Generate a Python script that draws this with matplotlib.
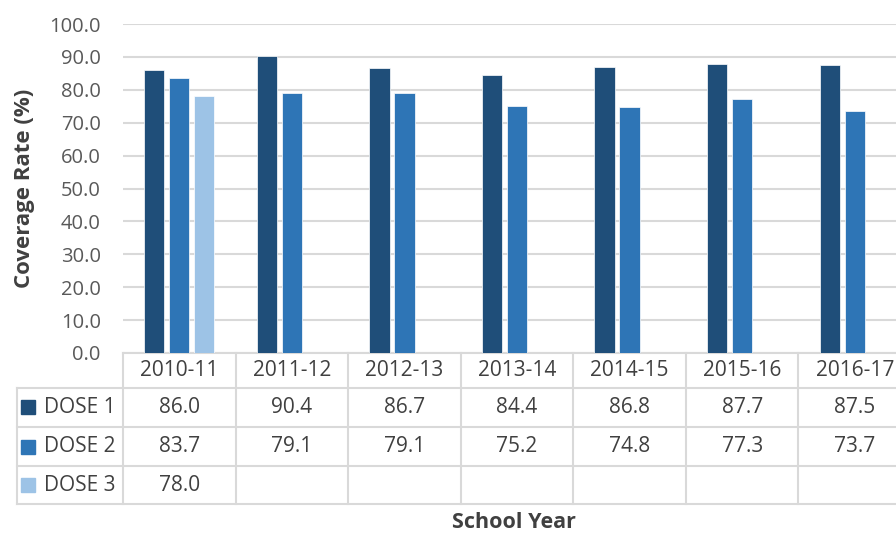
import numpy as np
import matplotlib.pyplot as plt

plt.rcParams['font.family'] = ['Open Sans', 'DejaVu Sans']

years = ['2010-11', '2011-12', '2012-13', '2013-14', '2014-15', '2015-16', '2016-17']
dose1 = [86.0, 90.4, 86.7, 84.4, 86.8, 87.7, 87.5]
dose2 = [83.7, 79.1, 79.1, 75.2, 74.8, 77.3, 73.7]
dose3 = [78.0, None, None, None, None, None, None]
series_names = ['DOSE 1', 'DOSE 2', 'DOSE 3']
colors = ['#1F4E79', '#2E75B6', '#9DC3E6']

grid_c = '#D9D9D9'
text_c = '#404040'

fig = plt.figure(figsize=(8.96, 5.34), dpi=100)
ax = fig.add_axes([123 / 896, 1 - 353 / 534, (911 - 123) / 896, 329 / 534])

x = np.arange(len(years))
width = 0.18
offsets = [-0.222, 0.0, 0.222]
all_series = [dose1, dose2, dose3]
for vals, off, col in zip(all_series, offsets, colors):
    v = np.array([np.nan if a is None else a for a in vals], dtype=float)
    ax.bar(x + off, v, width, color=col, edgecolor='white', linewidth=0.5, zorder=3)

ax.set_xlim(-0.5, len(years) - 0.5)
ax.set_ylim(0, 100)
ax.set_yticks(np.arange(0, 101, 10))
ax.set_yticklabels([f'{t:.1f}' for t in np.arange(0, 101, 10)])
ax.set_xticks([])
ax.tick_params(axis='y', length=0, pad=16, labelsize=14.5, labelcolor='#595959')
ax.grid(axis='y', color=grid_c, linewidth=1.5, zorder=0)
for s in ax.spines.values():
    s.set_visible(False)

ax.set_ylabel('Coverage Rate (%)', fontsize=16, fontweight='bold', color=text_c, labelpad=10)

# data table under the plot
tr = ax.get_xaxis_transform()
row_edges = [0.0, -0.1064, -0.2249, -0.3435, -0.459]
legend_left = -0.5 - 106 / 112.6
right = len(years) - 0.5
lkw = dict(color=grid_c, linewidth=1.5, transform=tr, clip_on=False, zorder=1)

ax.plot([-0.5, right], [0, 0], **lkw)
for yy in row_edges[1:]:
    ax.plot([legend_left, right], [yy, yy], **lkw)
for i in range(len(years) + 1):
    ax.plot([i - 0.5, i - 0.5], [0, row_edges[-1]], **lkw)
ax.plot([legend_left, legend_left], [row_edges[1], row_edges[-1]], **lkw)

for i, yr in enumerate(years):
    ax.text(i, (row_edges[0] + row_edges[1]) / 2, yr, transform=tr, ha='center', va='center',
            fontsize=15, color=text_c, clip_on=False)

for r, (name, vals, col) in enumerate(zip(series_names, all_series, colors)):
    ymid = (row_edges[r + 1] + row_edges[r + 2]) / 2
    ax.plot([legend_left + 0.1], [ymid], marker='s', markersize=9.5, color=col,
            transform=tr, clip_on=False, linestyle='none')
    ax.text(legend_left + 0.24, ymid, name, transform=tr, ha='left', va='center',
            fontsize=15, color=text_c, clip_on=False)
    for i, v in enumerate(vals):
        if v is not None:
            ax.text(i, ymid, f'{v:.1f}', transform=tr, ha='center', va='center',
                    fontsize=15, color=text_c, clip_on=False)

fig.text(514 / 896, 1 - 522 / 534, 'School Year', ha='center', va='center',
         fontsize=15.5, fontweight='bold', color=text_c)

fig.savefig('out.png', dpi=100, facecolor='white')
